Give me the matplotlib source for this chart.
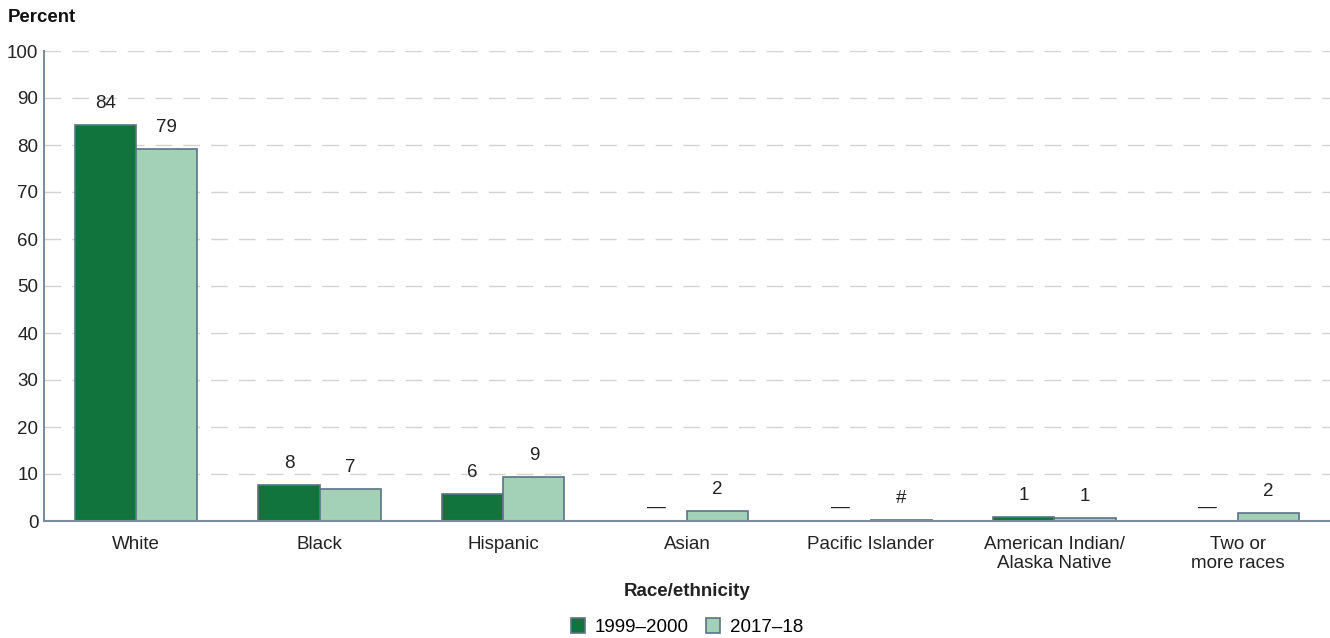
import matplotlib

matplotlib.use("Agg")

import matplotlib.pyplot as plt
import numpy as np

plt.rcParams["font.family"] = ["Liberation Sans", "DejaVu Sans"]

categories = ["White", "Black", "Hispanic", "Asian", "Pacific Islander",
              "American Indian/\nAlaska Native", "Two or\nmore races"]
series_names = ["1999\u20132000", "2017\u201318"]
values_1999 = [84.2, 7.6, 5.7, None, None, 0.9, None]
values_2017 = [79.2, 6.8, 9.3, 2.1, 0.3, 0.6, 1.7]
labels_1999 = ["84", "8", "6", "\u2014", "\u2014", "1", "\u2014"]
labels_2017 = ["79", "7", "9", "2", "#", "1", "2"]

dark = "#10743C"
light = "#A2D1B7"
edge = "#5B7384"
axis_col = "#7D8E9B"
fs = 13.5

fig = plt.figure(figsize=(13.3, 6.38), dpi=100)
ax = fig.add_axes([44 / 1330, 1 - 521 / 638, 1286 / 1330, 470 / 638])

x = np.arange(len(categories))
w = 0.333
for vals, labs, color, off in [(values_1999, labels_1999, dark, -w / 2),
                               (values_2017, labels_2017, light, w / 2)]:
    for xi, v, lab in zip(x, vals, labs):
        if v is not None:
            ax.bar(xi + off, v, width=w, color=color, edgecolor=edge, linewidth=1.2, zorder=3)
            ax.annotate(lab, (xi + off, v), xytext=(0, 15.5), textcoords="offset points",
                        ha="center", va="center", fontsize=fs, color="#222222")
        else:
            ax.annotate(lab, (xi + off, 0), xytext=(0, 10), textcoords="offset points",
                        ha="center", va="center", fontsize=fs, color="#222222")

ax.set_xlim(-0.5, len(categories) - 0.5)
ax.set_ylim(0, 100)
ax.set_yticks(range(0, 101, 10))
ax.set_xticks(x)
ax.set_xticklabels(categories, fontsize=fs, color="#222222", linespacing=1.1)
ax.tick_params(axis="y", labelsize=fs, labelcolor="#222222", length=0, pad=4)
ax.tick_params(axis="x", length=0, pad=11)
ax.grid(True, axis="y", color="#D3D3D3", linewidth=1, linestyle=(0, (12, 8)), zorder=0)
for side in ["top", "right"]:
    ax.spines[side].set_visible(False)
for side in ["left", "bottom"]:
    ax.spines[side].set_color(axis_col)
    ax.spines[side].set_linewidth(1.5)
    ax.spines[side].set_zorder(4)

fig.text(8 / 1330, 1 - 17 / 638, "Percent", fontsize=13.4, fontweight="bold",
         ha="left", va="center", color="#111111")
fig.text(687 / 1330, 1 - 592 / 638, "Race/ethnicity", fontsize=fs, fontweight="bold",
         ha="center", va="center", color="#222222")

handles = [plt.Rectangle((0, 0), 1, 1, facecolor=dark, edgecolor=edge, linewidth=1.2),
           plt.Rectangle((0, 0), 1, 1, facecolor=light, edgecolor=edge, linewidth=1.2)]
fig.legend(handles, series_names, loc="center", bbox_to_anchor=(687 / 1330, 1 - 627 / 638),
           ncol=2, frameon=False, fontsize=fs, handlelength=0.75, handleheight=0.8,
           handletextpad=0.55, columnspacing=0.9)

fig.savefig("out.png", dpi=100)
